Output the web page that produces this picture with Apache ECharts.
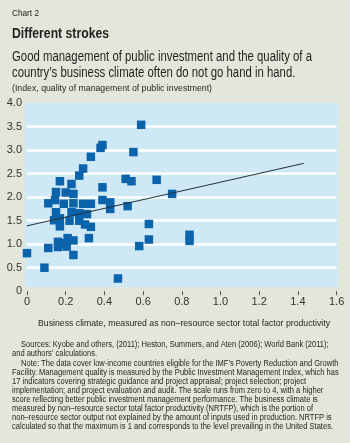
<!DOCTYPE html>
<html>
<head>
<meta charset="utf-8">
<script src="https://cdn.jsdelivr.net/npm/echarts@6/dist/echarts.min.js"></script>
<style>
  html, body { margin: 0; padding: 0; background: #e3e6da; }
  #chart { width: 350px; height: 443px; }
</style>
</head>
<body>
<div id="chart"></div>
<script>
// business climate (NRTFP) vs quality of public investment management
const businessClimate = [
  0.00, 0.09, 0.47, 0.59, 0.55, 0.39, 0.38, 0.33, 0.29, 0.27,
  0.51, 0.54, 0.67, 0.39, 0.75, 0.17, 0.23, 0.15, 0.20, 0.24,
  0.11, 0.145, 0.19, 0.24, 0.29, 0.33, 0.39, 0.43, 0.43, 0.52,
  0.15, 0.23, 0.27, 0.31, 0.14, 0.17, 0.22, 0.27, 0.30, 0.33,
  0.63, 0.32, 0.21, 0.24, 0.16, 0.19, 0.11, 0.16, 0.205, 0.24,
  0.63, 0.58, 0.84, 0.84, 0.17
];
const managementQuality = [
  0.81, 0.50, 0.27, 3.54, 2.96, 3.11, 3.05, 2.86, 2.61, 2.46,
  2.39, 2.34, 2.37, 2.21, 2.07, 2.34, 2.28, 2.11, 2.10, 2.07,
  1.87, 1.94, 1.86, 1.87, 1.86, 1.86, 1.94, 1.89, 1.75, 1.81,
  1.68, 1.68, 1.66, 1.64, 1.51, 1.38, 1.50, 1.50, 1.42, 1.37,
  1.43, 1.13, 1.13, 1.08, 1.05, 1.02, 0.92, 0.94, 0.95, 0.77,
  1.10, 0.96, 1.20, 1.07, 1.55
];
const trendX = [0, 1.43];
const trendY = [1.39, 2.72];
const yTickLabels = ['0', '0.5', '1.0', '1.5', '2.0', '2.5', '3.0', '3.5', '4.0'];
const xTickLabels = ['0', '0.2', '0.4', '0.6', '0.8', '1.0', '1.2', '1.4', '1.6'];

const noteLines = [
  'Sources: Kyobe and others, (2011); Heston, Summers, and Aten (2006); World Bank (2011);',
  'and authors\u2019 calculations.',
  'Note: The data cover low-income countries eligible for the IMF\u2019s Poverty Reduction and Growth',
  'Facility. Management quality is measured by the Public Investment Management Index, which has',
  '17 indicators covering strategic guidance and project appraisal; project selection; project',
  'implementation; and project evaluation and audit. The scale runs from zero to 4, with a higher',
  'score reflecting better public investment management performance. The business climate is',
  'measured by non\u2013resource sector total factor productivity (NRTFP), which is the portion of',
  'non\u2013resource sector output not explained by the amount of inputs used in production. NRTFP is',
  'calculated so that the maximum is 1 and corresponds to the level prevailing in the United States.'
];

const FONT = "'Liberation Sans', Arial, sans-serif";
const INK = '#231f20';

// the original uses a condensed face: squeeze text horizontally to its width
const measureCtx = document.createElement('canvas').getContext('2d');
function textWidth(text, font) {
  measureCtx.font = font;
  return measureCtx.measureText(text).width;
}

const noteFont = '8.3px ' + FONT;
const noteScale = 321 / textWidth(noteLines[9], noteFont);
const subFont = '14px ' + FONT;
const subScale = 300 / textWidth('Good management of public investment and the quality of a', subFont);

const texts = [
  { x: 12, y: 13, text: 'Chart 2', font: '9.5px ' + FONT, w: 27 },
  { x: 12, y: 34, text: 'Different strokes', font: 'bold 15.5px ' + FONT, w: 97 },
  { x: 12, y: 57, text: 'Good management of public investment and the quality of a', font: subFont, s: subScale },
  { x: 12, y: 73, text: 'country\u2019s business climate often do not go hand in hand.', font: subFont, s: subScale },
  { x: 12, y: 88, text: '(Index, quality of management of public investment)', font: '9.3px ' + FONT, w: 200 },
  { x: 38, y: 323, text: 'Business climate, measured as non\u2013resource sector total factor productivity', font: '9.8px ' + FONT, w: 292 }
];
const noteY = [345, 354, 364, 373, 382, 391, 400, 409, 418, 427];
noteLines.forEach((line, i) => {
  const indent = (i === 0 || i === 2) ? 21 : 12;
  texts.push({ x: indent, y: noteY[i], text: line, font: noteFont, s: noteScale });
});

const graphic = [
  {
    type: 'rect',
    z: -10,
    shape: { x: 25, y: 103, width: 313, height: 184 },
    style: { fill: '#cfe8f6' },
    silent: true
  }
].concat(texts.map(t => ({
  type: 'text',
  x: t.x,
  y: t.y,
  scaleX: t.s || (t.w / textWidth(t.text, t.font)),
  silent: true,
  style: {
    text: t.text,
    font: t.font,
    fill: INK,
    textVerticalAlign: 'middle'
  }
})));

const chartInstance = echarts.init(document.getElementById('chart'));

const option = {
  backgroundColor: '#e3e6da',
  animation: false,
  graphic: graphic,
  grid: {
    left: 27,
    right: 13.4,
    top: 103.2,
    bottom: 151.8
  },
  xAxis: {
    type: 'value',
    min: 0,
    max: 1.6,
    interval: 0.2,
    axisLine: { show: false },
    axisTick: { show: true, length: 4, lineStyle: { color: '#555' } },
    axisLabel: {
      color: '#333',
      fontSize: 11,
      fontFamily: FONT,
      margin: 5,
      formatter: (v) => xTickLabels[Math.round(v / 0.2)]
    },
    splitLine: { show: false }
  },
  yAxis: {
    type: 'value',
    min: 0,
    max: 4,
    interval: 0.5,
    axisLine: { show: false },
    axisTick: { show: false },
    axisLabel: {
      color: '#333',
      fontSize: 11,
      fontFamily: FONT,
      margin: 5,
      formatter: (v) => yTickLabels[Math.round(v / 0.5)]
    },
    splitLine: {
      show: true,
      showMinLine: false,
      showMaxLine: false,
      lineStyle: { color: '#ffffff', width: 2.5 }
    }
  },
  series: [
    {
      type: 'scatter',
      symbol: 'rect',
      symbolSize: 8.5,
      itemStyle: { color: '#0b64ab', opacity: 1 },
      data: businessClimate.map((x, i) => [x, managementQuality[i]]),
      z: 3
    },
    {
      type: 'line',
      showSymbol: false,
      symbol: 'none',
      lineStyle: { color: '#22303e', width: 1 },
      data: trendX.map((x, i) => [x, trendY[i]]),
      z: 4
    }
  ]
};

chartInstance.setOption(option);
</script>
</body>
</html>
